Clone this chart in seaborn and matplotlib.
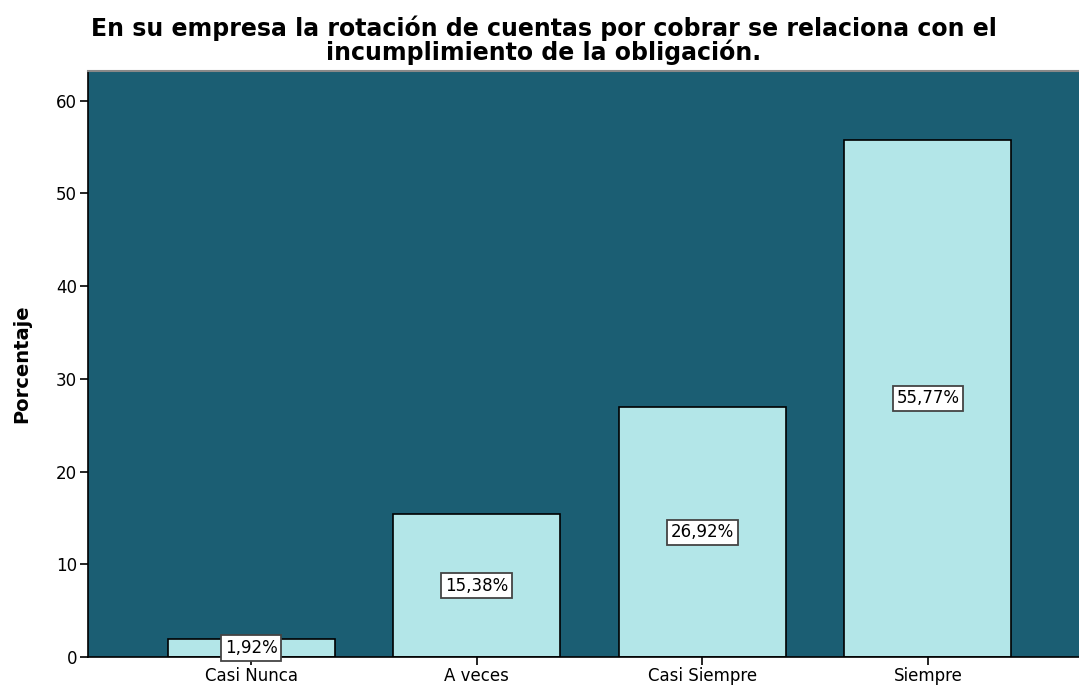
import matplotlib
matplotlib.use('Agg')
import matplotlib.pyplot as plt
import seaborn as sns
import pandas as pd

categories = ['Casi Nunca', 'A veces', 'Casi Siempre', 'Siempre']
percentages = [1.92, 15.38, 26.92, 55.77]
labels = ['1,92%', '15,38%', '26,92%', '55,77%']

df = pd.DataFrame({'categoria': categories, 'porcentaje': percentages})

sns.set_style('white')
plt.rcParams['font.family'] = ['DejaVu Sans']

fig = plt.figure(figsize=(10.79, 6.86), dpi=100)
ax = fig.add_axes([0.0816, 0.0423, 0.9184, 0.8542])
ax.set_facecolor('#1b5e73')

sns.barplot(data=df, x='categoria', y='porcentaje', color='#b3e6e8',
            saturation=1, width=0.74, edgecolor='black', linewidth=1.2, ax=ax)

for i, (v, lab) in enumerate(zip(percentages, labels)):
    ax.text(i, v / 2, lab, ha='center', va='center', fontsize=12, color='black',
            bbox=dict(boxstyle='square,pad=0.22', facecolor='white',
                      edgecolor='#444444', linewidth=1.3))

ax.set_xlim(-0.723, 3.67)
ax.set_ylim(0, 63.2)
ax.set_yticks([0, 10, 20, 30, 40, 50, 60])
ax.tick_params(axis='both', direction='out', length=6, width=1.2, colors='black',
               labelsize=12, left=True, bottom=True, pad=2)
ax.tick_params(axis='x', pad=1.5)
ax.set_xlabel('')
ax.set_ylabel('Porcentaje', fontsize=14, fontweight='bold', labelpad=18, color='black')

for side in ['left', 'bottom']:
    ax.spines[side].set_color('black')
    ax.spines[side].set_linewidth(1.2)
ax.spines['top'].set_color('#888888')
ax.spines['top'].set_linewidth(1.5)
ax.spines['right'].set_visible(False)

fig.text(0.504, 0.978, 'En su empresa la rotación de cuentas por cobrar se relaciona con el\n'
         'incumplimiento de la obligación.', ha='center', va='top', color='black',
         fontsize=17, fontweight='bold', linespacing=0.95)

fig.savefig('out.png', dpi=100)
